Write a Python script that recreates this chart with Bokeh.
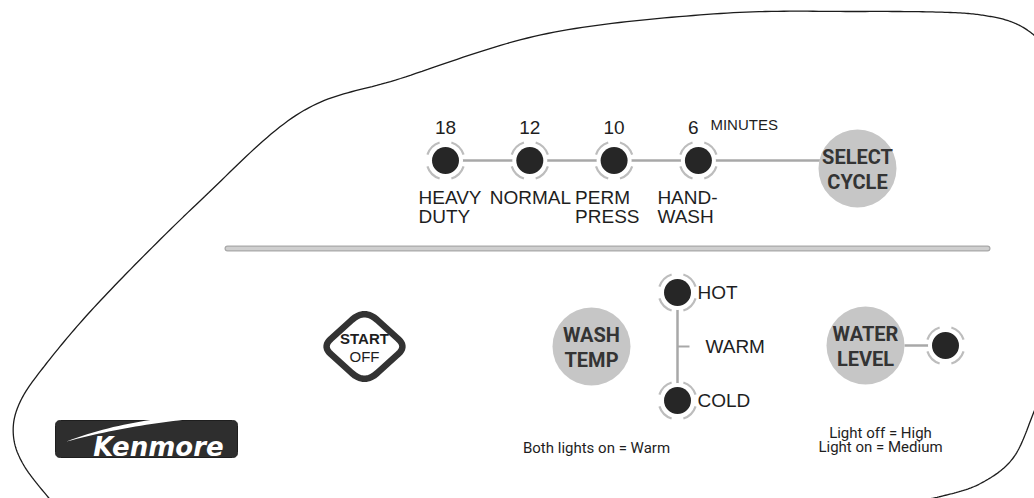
import numpy as np
from bokeh.plotting import figure
from bokeh.models import Range1d
from bokeh.core.properties import value
from bokeh.embed import file_html
from bokeh.resources import INLINE

# ---------------- data (texts of the control panel) ----------------
cycle_minutes = ["18", "12", "10", "6"]
minutes_unit = "MINUTES"
cycle_line1 = ["HEAVY", "NORMAL", "PERM", "HAND-"]
cycle_line2 = ["DUTY", "", "PRESS", "WASH"]
select_label = ["SELECT", "CYCLE"]
start_label = ["START", "OFF"]
temp_button = ["WASH", "TEMP"]
temp_options = ["HOT", "WARM", "COLD"]
temp_has_light = [True, False, True]
temp_note = "Both lights on = Warm"
water_button = ["WATER", "LEVEL"]
water_notes = ["Light off = High", "Light on = Medium"]
brand = "Kenmore"

# ---------------- styling / layout constants ----------------
HELV = "Liberation Sans"
COND = "Roboto"
DARK = "#262626"
BTN = "#c6c6c6"
BTN_TXT = "#343434"
WIRE = "#a8a8a8"
HALO = "#bdbdbd"

W, H = 1034, 498
p = figure(width=W, height=H, x_range=Range1d(0, W), y_range=Range1d(H, 0),
           output_backend="svg", toolbar_location=None, min_border=0,
           x_axis_type=None, y_axis_type=None)
p.grid.visible = False
p.outline_line_color = None
p.background_fill_color = "white"
p.border_fill_color = "white"


def catmull(pts, n=24):
    pts = np.array(pts, float)
    P = np.vstack([pts[0], pts, pts[-1]])
    out = []
    for i in range(1, len(P) - 2):
        p0, p1, p2, p3 = P[i - 1], P[i], P[i + 1], P[i + 2]
        t = np.linspace(0, 1, n, endpoint=False)[:, None]
        out.append(0.5 * ((2 * p1) + (-p0 + p2) * t + (2 * p0 - 5 * p1 + 4 * p2 - p3) * t ** 2
                          + (-p0 + 3 * p1 - 3 * p2 + p3) * t ** 3))
    out.append(P[-2][None, :])
    return np.vstack(out)


def rounded_poly(verts, radii, n=10):
    verts = np.array(verts, float)
    k = len(verts)
    if np.isscalar(radii):
        radii = [radii] * k
    xs, ys = [], []
    for i in range(k):
        a, b, c = verts[i - 1], verts[i], verts[(i + 1) % k]
        d1 = (a - b) / np.linalg.norm(a - b)
        d2 = (c - b) / np.linalg.norm(c - b)
        s, e = b + d1 * radii[i], b + d2 * radii[i]
        t = np.linspace(0, 1, n)[:, None]
        q = (1 - t) ** 2 * s + 2 * (1 - t) * t * b + t ** 2 * e
        xs.extend(q[:, 0]); ys.extend(q[:, 1])
    return xs, ys


def text(x, y, t, size, font=HELV, color="#1e1e1e", align="left", style="normal"):
    p.text(x=x, y=y, text=t, text_font=value(font), text_font_size=size,
           text_color=color, text_align=align, text_baseline="middle",
           text_font_style=style)


def led(cx, cy):
    p.circle(x=cx, y=cy, radius=17.5, fill_color="white", line_color=None)
    p.circle(x=cx, y=cy, radius=13.5, fill_color=DARK, line_color=None)
    for a in (45, 135, 225, 315):
        p.arc(x=cx, y=cy, radius=19, start_angle=np.radians(a - 27),
              end_angle=np.radians(a + 27), line_color=HALO, line_width=2.2)


# ---------------- panel outline ----------------
left_pts = [(52, 502), (24, 466), (13, 436), (18, 405), (42, 368), (100, 300), (200, 200),
            (300, 112), (400, 78), (547, 33), (720, 13), (860, 11), (950, 12), (990, 16),
            (1015, 23), (1034, 35), (1050, 52)]
c = catmull(left_pts)
p.line(c[:, 0], c[:, 1], line_color="#1c1c1c", line_width=1.3)
right_pts = [(1050, 370), (1034, 410), (1013, 457), (980, 483), (940, 496), (900, 503)]
c = catmull(right_pts)
p.line(c[:, 0], c[:, 1], line_color="#1c1c1c", line_width=1.3)

# ---------------- separator ----------------
p.line([227, 987], [248, 248], line_color="#a9a9a9", line_width=6, line_cap="round")
p.line([227, 987], [248, 248], line_color="#cfcfcf", line_width=3.5, line_cap="round")

# ---------------- cycle selection row ----------------
led_x0, led_dx, led_y = 445, 84.3, 160
sel_cx, sel_cy, btn_r = 857, 168, 39
xs = [led_x0 + i * led_dx for i in range(len(cycle_minutes))]
p.line([xs[0], sel_cx], [led_y, led_y], line_color=WIRE, line_width=2.5)
for x in xs:
    led(x, led_y)
text(xs[:3] + [xs[3] - 5], [127] * len(xs), cycle_minutes, "19px", align="center")
text([xs[-1] + 12], [124], [minutes_unit], "15px")
label_dx = [-27, -40, -39, -41]
text([x + d for x, d in zip(xs, label_dx)], [197] * 4, cycle_line1, "19px")
text([x + d for x, d in zip(xs, label_dx)], [216] * 4, cycle_line2, "19px")
p.circle(x=sel_cx, y=sel_cy, radius=btn_r, fill_color=BTN, line_color=None)
text([sel_cx, sel_cx], [sel_cy - 12, sel_cy + 13], select_label, "20px", font=COND,
     color=BTN_TXT, align="center", style="bold")

# ---------------- start / off ----------------
sx, sy = 364, 346
dx_, dy_ = rounded_poly([(sx - 42, sy), (sx, sy - 38), (sx + 42, sy), (sx, sy + 38)],
                        [11, 17, 11, 17])
p.patch(dx_, dy_, fill_color="white", line_color="#333333", line_width=6.5, line_join="round")
text([sx], [sy - 8], [start_label[0]], "15px", style="bold", align="center")
text([sx], [sy + 10], [start_label[1]], "15px", align="center")

# ---------------- wash temperature ----------------
wt_cx, wt_cy = 591, 346
p.circle(x=wt_cx, y=wt_cy, radius=btn_r, fill_color=BTN, line_color=None)
text([wt_cx, wt_cx], [wt_cy - 12, wt_cy + 13], temp_button, "20px", font=COND,
     color=BTN_TXT, align="center", style="bold")
tx = 677
ty = [292, 346, 400]
p.line([tx, tx], [ty[0], ty[2]], line_color=WIRE, line_width=2.5)
p.line([tx, tx + 12], [ty[1], ty[1]], line_color=WIRE, line_width=2)
for y, has in zip(ty, temp_has_light):
    if has:
        led(tx, y)
text([tx + 20 if h else tx + 28 for h in temp_has_light], ty, temp_options, "19px")
text([596], [447], [temp_note], "15px", font=COND, align="center")

# ---------------- water level ----------------
wl_cx, wl_cy = 865, 345
wled_x = 945
p.line([wl_cx + btn_r, wled_x], [wl_cy, wl_cy], line_color=WIRE, line_width=2.5)
p.circle(x=wl_cx, y=wl_cy, radius=btn_r, fill_color=BTN, line_color=None)
text([wl_cx, wl_cx], [wl_cy - 12, wl_cy + 13], water_button, "20px", font=COND,
     color=BTN_TXT, align="center", style="bold")
led(wled_x, wl_cy)
text([880, 880], [432, 446], water_notes, "15px", font=COND, align="center")

# ---------------- brand logo ----------------
kx, ky = rounded_poly([(55, 420), (237, 420), (237, 457), (55, 457)], 5)
p.patch(kx, ky, fill_color="#2e2e2e", line_color="#1e1e1e", line_width=1)
t = np.linspace(0, 1, 30)[:, None]
P0, C1, P2, C2 = np.array([66, 441.]), np.array([140, 413.]), np.array([222, 416.]), np.array([142, 421.])
top = (1 - t) ** 2 * P0 + 2 * (1 - t) * t * C1 + t ** 2 * P2
bot = (1 - t) ** 2 * P2 + 2 * (1 - t) * t * C2 + t ** 2 * P0
sw = np.vstack([top, bot])
p.patch(sw[:, 0], sw[:, 1], fill_color="white", line_color=None)
text([158], [446], [brand], "26px", font="DejaVu Sans", color="white", align="center",
     style="bold italic")

open("out.html", "w").write(file_html(p, INLINE))
